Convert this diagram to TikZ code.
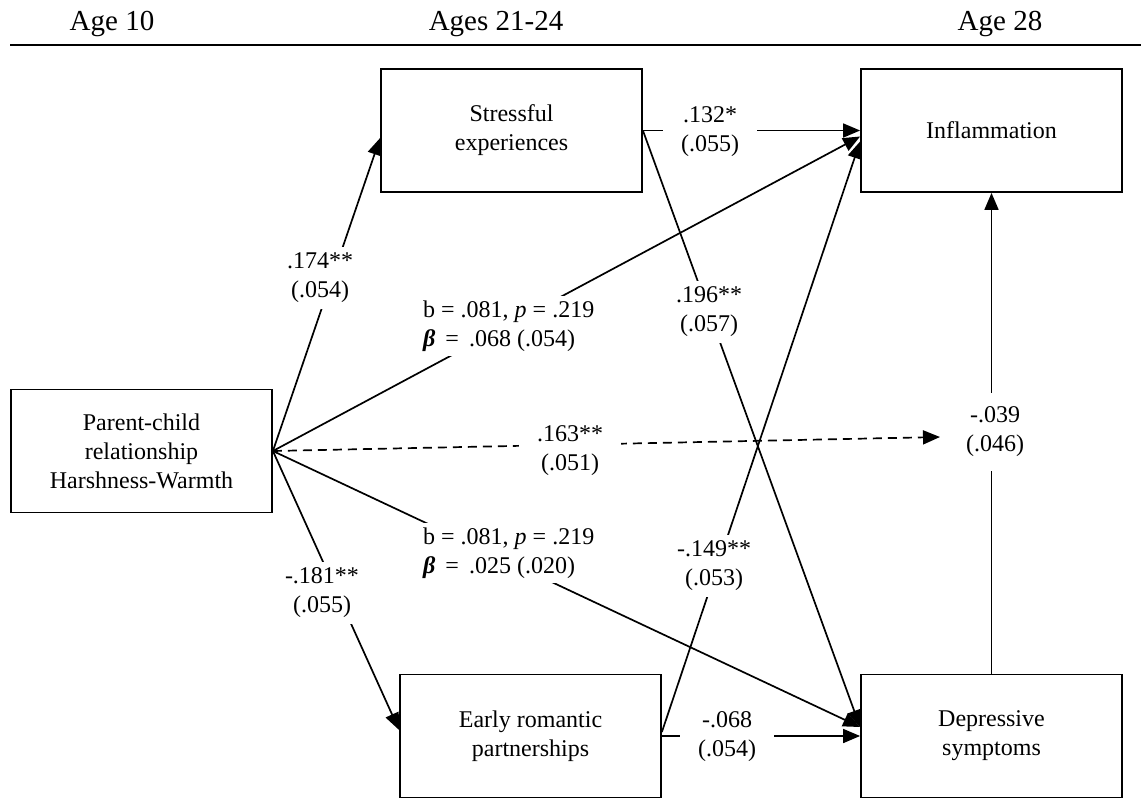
\documentclass[tikz,border=0pt]{standalone}
\usepackage{fontspec}
\setmainfont{Liberation Serif}
\usetikzlibrary{arrows.meta}
\begin{document}
\begin{tikzpicture}[x=1pt,y=-1pt,
  txt/.style={font=\fontsize{24}{29}\selectfont},
  box/.style={txt,draw,line width=1.8pt,minimum width=261pt,minimum height=123pt,
    align=center,inner sep=0pt},
  arr/.style={line width=1.7pt,-{Triangle[length=17pt,width=14pt]}},
  dasharr/.style={arr,dash pattern=on 9pt off 6pt},
  lab/.style={txt,fill=white,align=center,inner xsep=6pt,inner ysep=6pt},
  hlab/.style={lab,inner xsep=18pt},
  vlab/.style={lab,inner ysep=14pt},
  blab/.style={txt,fill=white,align=left,inner sep=5pt,anchor=west},
  head/.style={font=\fontsize{29}{35}\selectfont,anchor=base}]
\useasboundingbox (0,0) rectangle (1141,798);

% column headings and rule
\node[head] (h1) at (112,30) {Age 10};
\node[head] (h2) at (496,30) {Ages 21-24};
\node[head] (h3) at (1000,30) {Age 28};
\coordinate (rl) at (10,45);
\coordinate (rr) at (1141,45);
\draw[line width=2.8pt] (rl) -- (rr);

% variables
\node[box] (par)    at (141.5,451)   {Parent-child\\relationship\\Harshness-Warmth};
\node[box] (stress) at (511.5,130.5) {Stressful\\experiences};
\node[box] (infl)   at (991.5,130.5) {Inflammation};
\node[box] (early)  at (530.5,736)   {Early romantic\\partnerships};
\node[box] (dep)    at (991.5,736)   {Depressive\\symptoms};

% attachment points
\coordinate (src) at (par.east);
\coordinate (dtip) at (940,437);

% paths
\draw[arr] (src) -- ([yshift=-7.5pt]stress.west);
\draw[arr] (src) -- ([yshift=-6pt]infl.west);
\draw[arr] (src) -- ([yshift=6pt]early.west);
\draw[arr] (src) -- ([yshift=9pt]dep.west);
\draw[dasharr] (src) -- (dtip);
\draw[arr] (stress.east) -- (infl.west);
\draw[arr] (stress.east) -- ([yshift=9pt]dep.west);
\draw[arr] ([yshift=4pt]early.east) -- ([yshift=-11pt]infl.west);
\draw[arr] (early.east) -- (dep.west);
\draw[arr] (dep.north) -- (infl.south);

% coefficients
\node[lab]  (l1) at (320,278) {.174**\\(.054)};
\node[hlab] (l2) at (710,132) {.132*\\(.055)};
\node[lab]  (l3) at (709,312) {.196**\\(.057)};
\node[lab]  (l4) at (714,566) {-.149**\\(.053)};
\node[hlab] (l5) at (727,737) {-.068\\(.054)};
\node[lab]  (l6) at (322,593) {-.181**\\(.055)};
\node[hlab] (l7) at (570,451) {.163**\\(.051)};
\node[vlab] (l8) at (995,432) {-.039\\(.046)};
\node[blab] (l9) at (418,326) {b = .081, \textit{p} = .219\\\textbf{\textit{β}} \,=\, .068 (.054)};
\node[blab] (l10) at (418,553) {b = .081, \textit{p} = .219\\\textbf{\textit{β}} \,=\, .025 (.020)};
\end{tikzpicture}
\end{document}
